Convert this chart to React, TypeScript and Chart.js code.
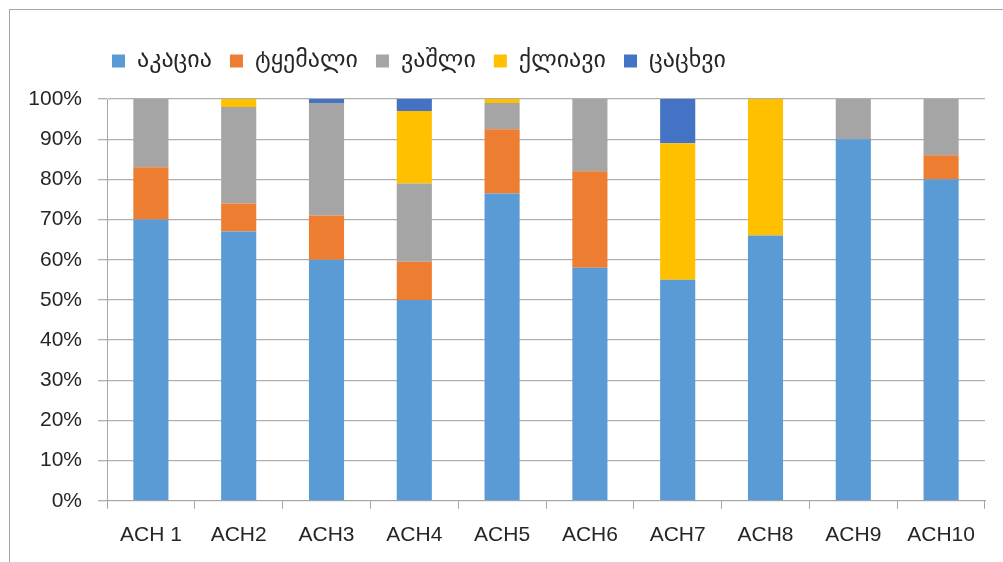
import React, { useEffect, useRef } from "react";
import { Chart, registerables } from "chart.js";

Chart.register(...registerables);

const categories = ["ACH 1", "ACH2", "ACH3", "ACH4", "ACH5", "ACH6", "ACH7", "ACH8", "ACH9", "ACH10"];
const seriesNames = ["აკაცია", "ტყემალი", "ვაშლი", "ქლიავი", "ცაცხვი"];
const acacia = [70, 67, 60, 50, 76.5, 58, 55, 66, 90, 80];
const tkemali = [13, 7, 11, 9.5, 16, 24, 0, 0, 0, 6];
const vashli = [17, 24, 28, 19.5, 6.5, 18, 0, 0, 10, 14];
const kliavi = [0, 2, 0, 18, 1, 0, 34, 34, 0, 0];
const tsatskhvi = [0, 0, 1, 3, 0, 0, 11, 0, 0, 0];
const seriesColors = ["#5B9BD5", "#ED7D31", "#A5A5A5", "#FFC000", "#4472C4"];
const yTicks = [0, 10, 20, 30, 40, 50, 60, 70, 80, 90, 100];

const LEGEND_PAD = 18;

const framePlugin = {
  id: "frame",
  afterLayout(chart: any) {
    if (chart.legend) chart.legend.left = 112 - LEGEND_PAD;
  },
  beforeDraw(chart: any) {
    const ctx = chart.ctx;
    ctx.save();
    ctx.fillStyle = "#ffffff";
    ctx.fillRect(0, 0, chart.width, chart.height);
    ctx.strokeStyle = "#a6a6a6";
    ctx.lineWidth = 1;
    ctx.strokeRect(9.5, 9.5, chart.width + 50, chart.height + 50);
    ctx.restore();
  },
};

export default function App() {
  const ref = useRef<HTMLCanvasElement>(null);
  useEffect(() => {
    if (!ref.current) return;
    const series = [acacia, tkemali, vashli, kliavi, tsatskhvi];
    const chart = new Chart(ref.current, {
      type: "bar",
      data: {
        labels: categories,
        datasets: series.map((d, i) => ({
          label: seriesNames[i],
          data: d,
          backgroundColor: seriesColors[i],
          borderWidth: 0,
          barPercentage: 0.4,
          categoryPercentage: 1,
        })),
      },
      options: {
        animation: false,
        responsive: false,
        layout: { padding: { left: 0, right: 18, top: 31, bottom: 0 } },
        plugins: {
          legend: {
            position: "top",
            align: "start",
            labels: {
              boxWidth: 13,
              boxHeight: 13,
              padding: LEGEND_PAD,
              color: "#262626",
              font: { family: "'DejaVu Sans', sans-serif", size: 24 },
            },
          },
          title: {
            display: true,
            text: "",
            weight: 500,
            position: "top",
            font: { size: 1, lineHeight: 1 },
            padding: { top: 15, bottom: 0 },
          } as any,
          tooltip: { enabled: false },
        },
        scales: {
          x: {
            stacked: true,
            grid: {
              drawOnChartArea: false,
              drawTicks: true,
              tickLength: 8,
              color: "#a6a6a6",
              offset: true,
            },
            border: { color: "#a6a6a6", width: 1 },
            ticks: {
              color: "#262626",
              padding: 14,
              maxRotation: 0,
              font: { family: "'Liberation Sans', Arial, sans-serif", size: 21 },
            },
          },
          y: {
            stacked: true,
            min: 0,
            max: 100,
            afterFit(scale: any) {
              scale.width = 107;
            },
            afterBuildTicks(scale: any) {
              scale.ticks = yTicks.map((v) => ({ value: v }));
            },
            grid: {
              color: "#b0b0b0",
              lineWidth: 1.3,
              tickLength: 9,
            },
            border: { color: "#a6a6a6", width: 1 },
            ticks: {
              color: "#262626",
              padding: 16,
              font: { family: "'Liberation Sans', Arial, sans-serif", size: 21 },
              callback: (v: any) => v + "%",
            },
          },
        },
      },
      plugins: [framePlugin],
    });
    return () => chart.destroy();
  }, []);
  return (
    <div style={{ position: "fixed", left: 0, top: 0, width: 1003, height: 562 }}>
      <canvas ref={ref} width={1003} height={562} />
    </div>
  );
}
